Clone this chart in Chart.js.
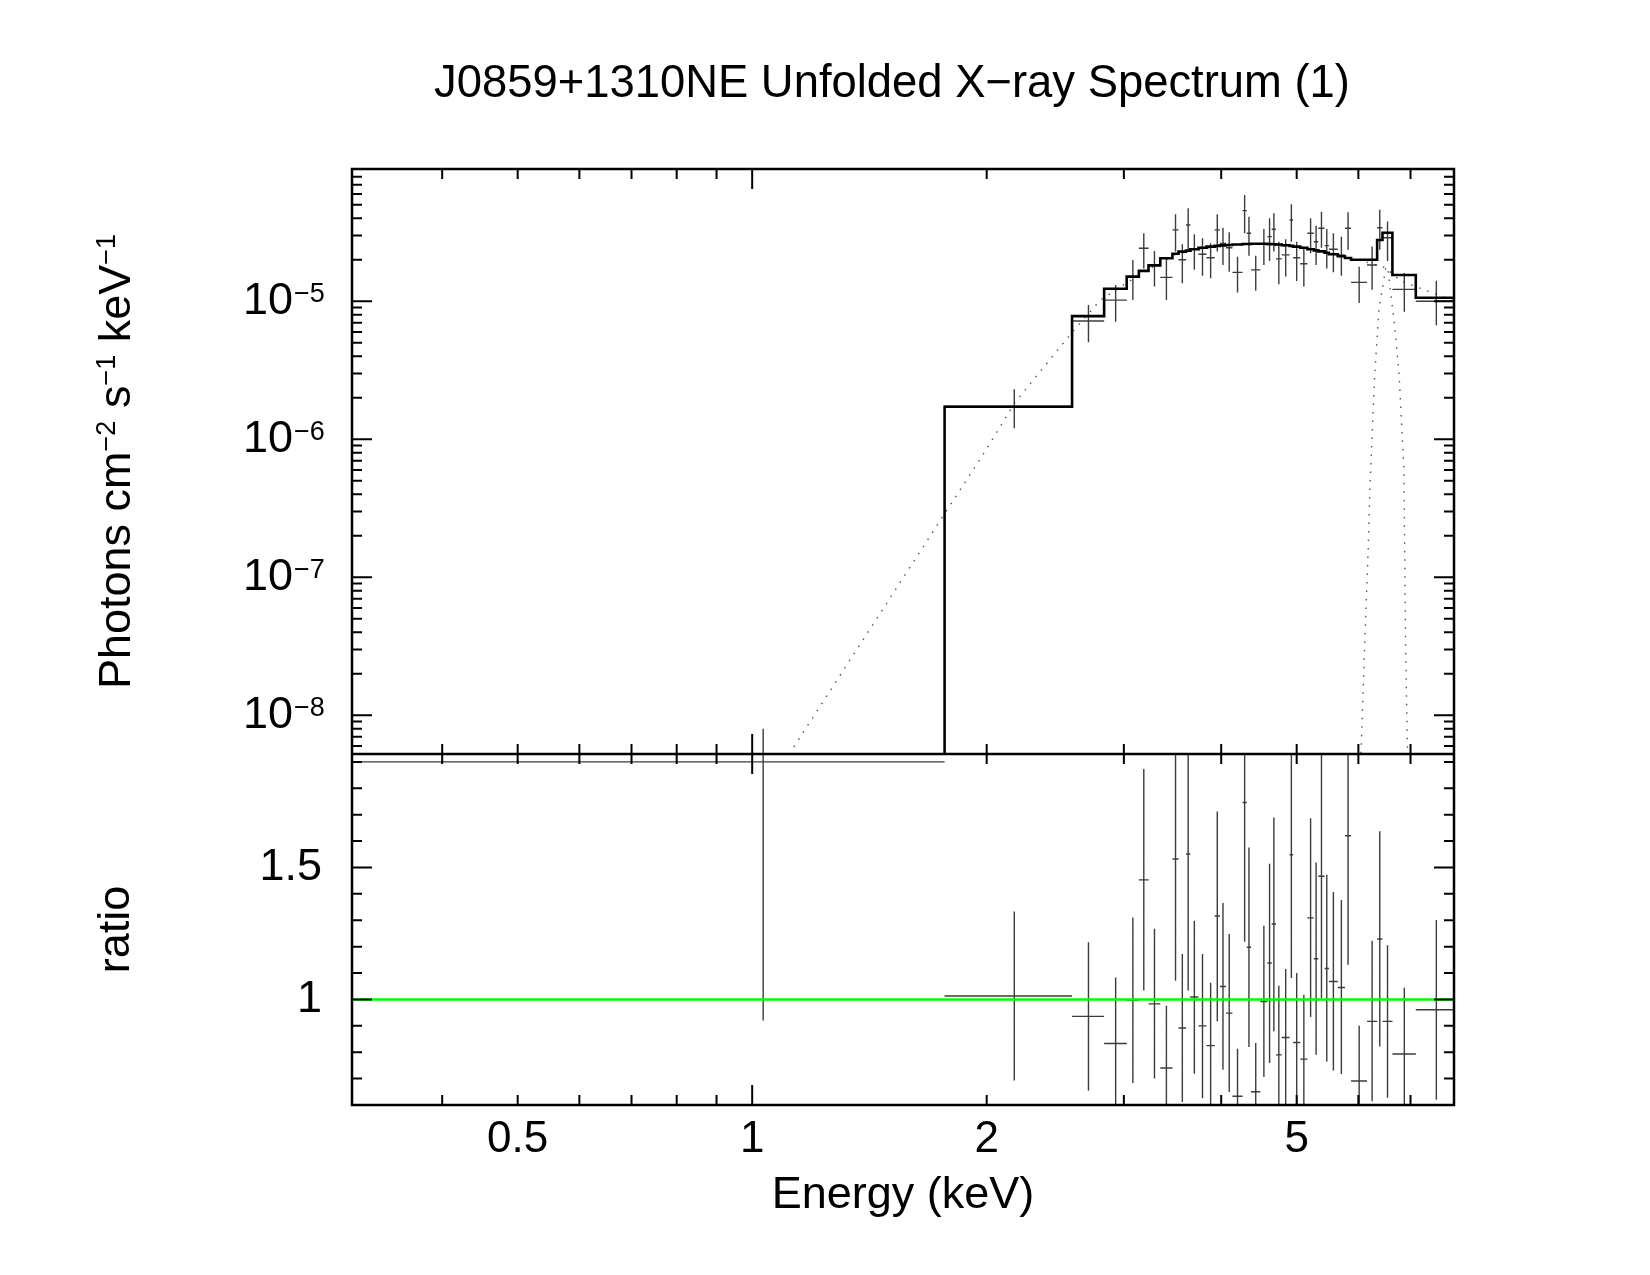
<!DOCTYPE html>
<html>
<head>
<meta charset="utf-8">
<title>J0859+1310NE Unfolded X-ray Spectrum</title>
<script src="https://cdn.jsdelivr.net/npm/chart.js@4.4.1/dist/chart.umd.min.js"></script>
<style>
  html, body { margin: 0; padding: 0; background: #fff; }
  #spec { display: block; }
</style>
</head>
<body>
<canvas id="spec" width="1650" height="1275"></canvas>
<script>
// bin centres and half widths (keV)
const energy = [1.033, 2.17, 2.702, 2.928, 3.081, 3.182, 3.284, 3.402, 3.495, 3.566, 3.628, 3.695, 3.785, 3.877,
  3.954, 4.021, 4.096, 4.198, 4.287, 4.342, 4.43, 4.538, 4.615, 4.674, 4.743, 4.84, 4.922, 5.0, 5.107, 5.21,
  5.295, 5.38, 5.465, 5.573, 5.706, 5.82, 6.014, 6.249, 6.392, 6.54, 6.873, 7.555];
const energyHalfWidth = [0.733, 0.404, 0.128, 0.098, 0.056, 0.046, 0.057, 0.061, 0.032, 0.04, 0.023, 0.045, 0.045, 0.047,
  0.031, 0.036, 0.039, 0.063, 0.027, 0.028, 0.061, 0.048, 0.03, 0.03, 0.04, 0.057, 0.026, 0.053, 0.054, 0.05,
  0.035, 0.05, 0.035, 0.073, 0.061, 0.053, 0.142, 0.093, 0.05, 0.097, 0.238, 0.445];

// unfolded data (photons cm^-2 s^-1 keV^-1) and error bar ends
const flux = [2.6e-9, 1.74e-6, 7.2e-6, 1.02e-5, 1.51e-5, 2.42e-5, 1.83e-5, 1.49e-5, 3.29e-5, 2.0e-5, 3.57e-5, 2.4e-5, 2.19e-5, 2.07e-5,
  3.29e-5, 2.63e-5, 2.44e-5, 1.62e-5, 4.54e-5, 3.11e-5, 1.69e-5, 2.59e-5, 2.94e-5, 3.33e-5, 2.03e-5, 2.17e-5, 3.88e-5, 2.07e-5, 1.87e-5, 3.11e-5,
  2.7e-5, 3.38e-5, 2.53e-5, 2.38e-5, 2.17e-5, 3.38e-5, 1.37e-5, 1.83e-5, 3.41e-5, 2.89e-5, 1.22e-5, 1.0e-5];
const fluxLow = [1e-10, 1.2e-6, 5.05e-6, 7.1e-6, 1.02e-5, 1.73e-5, 1.28e-5, 1.02e-5, 2.29e-5, 1.35e-5, 2.36e-5, 1.69e-5, 1.53e-5, 1.47e-5,
  2.29e-5, 1.83e-5, 1.64e-5, 1.16e-5, 3.11e-5, 2.14e-5, 1.19e-5, 1.83e-5, 1.96e-5, 2.29e-5, 1.33e-5, 1.51e-5, 2.7e-5, 1.4e-5, 1.28e-5, 2.23e-5,
  1.83e-5, 2.44e-5, 1.73e-5, 1.62e-5, 1.53e-5, 2.36e-5, 9.7e-6, 1.21e-5, 2.36e-5, 1.96e-5, 8.4e-6, 6.7e-6];
const fluxHigh = [8e-9, 2.3e-6, 9.4e-6, 1.31e-5, 1.99e-5, 3.11e-5, 2.31e-5, 2.03e-5, 4.27e-5, 2.59e-5, 4.72e-5, 3.06e-5, 2.86e-5, 2.63e-5,
  4.27e-5, 3.41e-5, 3.16e-5, 2.1e-5, 5.89e-5, 4.1e-5, 2.14e-5, 3.34e-5, 3.99e-5, 4.35e-5, 2.7e-5, 2.82e-5, 5.05e-5, 2.7e-5, 2.44e-5, 3.99e-5,
  3.53e-5, 4.46e-5, 3.34e-5, 3.11e-5, 2.94e-5, 4.41e-5, 1.78e-5, 2.49e-5, 4.6e-5, 3.78e-5, 1.6e-5, 1.41e-5];

// folded model, one value per bin
const modelFlux = [1e-9, 1.72e-6, 7.8e-6, 1.233e-5, 1.51e-5, 1.66e-5, 1.82e-5, 2.05e-5, 2.21e-5, 2.29e-5, 2.33e-5, 2.38e-5, 2.44e-5, 2.49e-5,
  2.52e-5, 2.54e-5, 2.56e-5, 2.58e-5, 2.6e-5, 2.6e-5, 2.61e-5, 2.61e-5, 2.6e-5, 2.59e-5, 2.58e-5, 2.55e-5, 2.52e-5, 2.49e-5, 2.44e-5, 2.38e-5,
  2.34e-5, 2.3e-5, 2.25e-5, 2.19e-5, 2.12e-5, 2.06e-5, 2.0e-5, 2.0e-5, 2.78e-5, 3.14e-5, 1.55e-5, 1.06e-5];

// data / model ratio and error bar ends
const ratio = [1.9, 1.013, 0.936, 0.833, 0.998, 1.453, 0.983, 0.74, 1.532, 0.892, 1.551, 1.009, 0.90, 0.825,
  1.316, 1.049, 0.948, 0.633, 1.746, 1.198, 0.65, 0.992, 1.138, 1.286, 0.79, 0.856, 1.548, 0.837, 0.774, 1.309,
  1.154, 1.467, 1.117, 1.068, 1.045, 1.62, 0.691, 0.917, 1.229, 0.917, 0.793, 0.961];
const ratioLow = [0.92, 0.693, 0.654, 0.55, 0.683, 1.034, 0.70, 0.5, 1.071, 0.611, 1.034, 0.718, 0.626, 0.58,
  0.917, 0.734, 0.649, 0.45, 1.219, 0.82, 0.46, 0.706, 0.759, 0.879, 0.53, 0.595, 1.081, 0.57, 0.53, 0.933,
  0.79, 1.005, 0.765, 0.731, 0.717, 1.131, 0.48, 0.614, 0.822, 0.627, 0.54, 0.62];
const ratioHigh = [2.5, 1.333, 1.217, 1.083, 1.31, 1.873, 1.268, 0.976, 2.0, 1.172, 2.07, 1.298, 1.172, 1.063,
  1.712, 1.365, 1.248, 0.813, 2.27, 1.576, 0.835, 1.279, 1.514, 1.689, 1.052, 1.115, 2.02, 1.1, 1.018, 1.687,
  1.519, 1.95, 1.472, 1.407, 1.377, 2.1, 0.9, 1.222, 1.637, 1.205, 1.044, 1.301];

// model components (dotted)
const continuumEnergy = [1.131, 1.536, 1.995, 2.17, 2.568, 2.798, 2.95, 3.2, 3.5, 4.0, 4.4, 5.0, 5.5, 6.0, 6.5, 6.8, 7.38, 7.96];
const continuumFlux = [5.9e-9, 8.55e-8, 8.35e-7, 1.82e-6, 5.86e-6, 1.02e-5, 1.24e-5, 1.66e-5, 2.2e-5, 2.52e-5, 2.6e-5, 2.48e-5,
  2.25e-5, 2.0e-5, 1.75e-5, 1.4e-5, 1.18e-5, 1.0e-5];
const lineEnergy = [6.047, 6.11, 6.177, 6.209, 6.295, 6.375, 6.51, 6.545, 6.68, 6.77, 6.865, 6.88, 6.90, 6.937];
const lineFlux = [5.3e-9, 3e-8, 1.6e-7, 4.54e-7, 2.85e-6, 8.65e-6, 1.78e-5, 1.75e-5, 6.55e-6, 2.85e-6, 6e-7, 1.6e-7, 3e-8, 5.8e-9];

// axes
const energyRange = [0.3064, 7.96];
const fluxRange = [5.24e-9, 9.09e-5];
const ratioRange = [0.6, 1.93];
const energyLabels = [0.5, 1, 2, 5];
const fluxLabels = [1e-8, 1e-7, 1e-6, 1e-5];
const ratioLabels = [1, 1.5];

const FONT = '"Liberation Sans", Arial, Helvetica, sans-serif';

const xy = (xs, ys) => xs.map((x, i) => ({x: x, y: ys[i]}));

// horizontal + vertical bar for every bin, separated by gaps
function crosses(yc, ylo, yhi) {
  const pts = [];
  energy.forEach((e, i) => {
    const h = energyHalfWidth[i];
    pts.push({x: e - h, y: yc[i]}, {x: e + h, y: yc[i]}, {x: e, y: null});
    pts.push({x: e, y: ylo[i]}, {x: e, y: yhi[i]}, {x: e, y: null});
  });
  return pts;
}

const modelSteps = energy.map((e, i) => ({x: e - energyHalfWidth[i], y: modelFlux[i]}));
const last = energy.length - 1;
modelSteps.push({x: energy[last] + energyHalfWidth[last], y: modelFlux[last]});

const unity = [
  {x: energy[0] - energyHalfWidth[0], y: 1},
  {x: energy[last] + energyHalfWidth[last], y: 1}
];

const near = (a, b) => Math.abs(a - b) < 1e-9 * Math.max(1, Math.abs(b));
const isDecade = v => Math.abs(Math.log10(v) - Math.round(Math.log10(v))) < 1e-9;

function logTicks(scale, e0, e1) {
  const t = [];
  for (let e = e0; e <= e1; e++) {
    for (let m = 1; m <= 9; m++) {
      const v = m * Math.pow(10, e);
      if (v >= scale.min && v <= scale.max) t.push({value: v});
    }
  }
  scale.ticks = t;
}

// frame, inward ticks, superscripted labels and title
const xspecFrame = {
  id: 'xspecFrame',
  afterDraw(chart) {
    const ctx = chart.ctx;
    const xs = chart.scales.x, yt = chart.scales.yTop, yb = chart.scales.yBot;
    const left = xs.left, right = xs.right, top = yt.top, mid = yt.bottom, bottom = yb.bottom;

    ctx.save();
    ctx.strokeStyle = '#000';
    ctx.fillStyle = '#000';
    ctx.lineWidth = 2;
    ctx.beginPath();
    xs.ticks.forEach(t => {
      const px = xs.getPixelForValue(t.value);
      if (px < left + 1 || px > right - 1) return;
      const len = isDecade(t.value) ? 20 : 10;
      ctx.moveTo(px, top); ctx.lineTo(px, top + len);
      ctx.moveTo(px, mid - len); ctx.lineTo(px, mid + len);
      ctx.moveTo(px, bottom); ctx.lineTo(px, bottom - len);
    });
    yt.ticks.forEach(t => {
      const py = yt.getPixelForValue(t.value);
      if (py < top + 1 || py > mid - 1) return;
      const len = isDecade(t.value) ? 20 : 10;
      ctx.moveTo(left, py); ctx.lineTo(left + len, py);
      ctx.moveTo(right, py); ctx.lineTo(right - len, py);
    });
    yb.ticks.forEach(t => {
      const py = yb.getPixelForValue(t.value);
      if (py < mid + 1 || py > bottom - 1) return;
      const len = near(t.value * 2, Math.round(t.value * 2)) ? 20 : 10;
      ctx.moveTo(left, py); ctx.lineTo(left + len, py);
      ctx.moveTo(right, py); ctx.lineTo(right - len, py);
    });
    ctx.stroke();

    ctx.lineWidth = 2.5;
    ctx.strokeRect(left, top, right - left, bottom - top);
    ctx.beginPath();
    ctx.moveTo(left, mid); ctx.lineTo(right, mid);
    ctx.stroke();

    // 10^n labels
    fluxLabels.forEach(v => {
      const py = yt.getPixelForValue(v);
      const ex = '\u2212' + Math.abs(Math.round(Math.log10(v)));
      ctx.font = '45px ' + FONT;
      ctx.textAlign = 'right';
      ctx.textBaseline = 'alphabetic';
      ctx.fillText('10', left - 59, py + 12.5);
      ctx.font = '27px ' + FONT;
      ctx.textAlign = 'left';
      ctx.fillText(ex, left - 58, py + 0.5);
    });

    // y title with superscripts
    const parts = [['Photons cm', 45, 0], ['\u22122', 27, 15], [' s', 45, 0], ['\u22121', 27, 15], [' keV', 45, 0], ['\u22121', 27, 15]];
    let total = 0;
    parts.forEach(p => { ctx.font = p[1] + 'px ' + FONT; total += ctx.measureText(p[0]).width; });
    ctx.translate(130, (top + mid) / 2);
    ctx.rotate(-Math.PI / 2);
    ctx.textAlign = 'left';
    let u = -total / 2;
    parts.forEach(p => {
      ctx.font = p[1] + 'px ' + FONT;
      ctx.fillText(p[0], u, -p[2]);
      u += ctx.measureText(p[0]).width;
    });
    ctx.setTransform(1, 0, 0, 1, 0, 0);

    ctx.font = '45.4px ' + FONT;
    ctx.textAlign = 'center';
    ctx.fillText('J0859+1310NE Unfolded X\u2212ray Spectrum (1)', 892, 97);
    ctx.restore();
  }
};

new Chart(document.getElementById('spec'), {
  type: 'line',
  data: {
    datasets: [
      {label: 'ratio model', data: unity, yAxisID: 'yBot', borderColor: '#00ff00', borderWidth: 2.5, pointRadius: 0},
      {label: 'model', data: modelSteps, yAxisID: 'yTop', stepped: 'before', borderColor: '#000', borderWidth: 2.6, pointRadius: 0},
      {label: 'data', data: crosses(flux, fluxLow, fluxHigh), yAxisID: 'yTop', borderColor: '#3c3c3c', borderWidth: 1.4, pointRadius: 0, spanGaps: false},
      {label: 'ratio', data: crosses(ratio, ratioLow, ratioHigh), yAxisID: 'yBot', borderColor: '#3c3c3c', borderWidth: 1.4, pointRadius: 0, spanGaps: false},
      {label: 'continuum', data: xy(continuumEnergy, continuumFlux), yAxisID: 'yTop', borderColor: '#555', borderWidth: 1.4, borderDash: [1.5, 7], pointRadius: 0},
      {label: 'Fe line', data: xy(lineEnergy, lineFlux), yAxisID: 'yTop', borderColor: '#555', borderWidth: 1.4, borderDash: [1.5, 7], pointRadius: 0}
    ]
  },
  options: {
    responsive: false,
    animation: false,
    events: [],
    layout: {padding: {left: 0, top: 169, right: 196, bottom: 0}},
    plugins: {legend: {display: false}, tooltip: {enabled: false}, title: {display: false}},
    scales: {
      x: {
        type: 'logarithmic',
        position: 'bottom',
        bounds: 'data',
        min: energyRange[0],
        max: energyRange[1],
        grid: {display: false, drawTicks: false, tickLength: 0},
        border: {display: false},
        afterBuildTicks: s => logTicks(s, -1, 0),
        afterFit: s => { s.height = 170; },
        ticks: {
          autoSkip: false, maxRotation: 0, minRotation: 0, padding: 8, color: '#000',
          font: {family: FONT, size: 44},
          callback: v => energyLabels.some(l => near(v, l)) ? String(energyLabels.find(l => near(v, l))) : ''
        },
        title: {display: true, text: 'Energy (keV)', color: '#000', font: {family: FONT, size: 45}, padding: {top: 0, bottom: 52}}
      },
      yBot: {
        type: 'linear',
        position: 'left',
        stack: 'panels',
        stackWeight: 351,
        bounds: 'data',
        min: ratioRange[0],
        max: ratioRange[1],
        grid: {display: false, drawTicks: false, tickLength: 0},
        border: {display: false},
        afterBuildTicks: s => {
          const t = [];
          for (let k = 6; k <= 19; k++) t.push({value: k / 10});
          s.ticks = t;
        },
        afterFit: s => { s.width = 352; },
        ticks: {
          autoSkip: false, padding: 30, color: '#000',
          font: {family: FONT, size: 45},
          callback: v => ratioLabels.some(l => near(v, l)) ? String(v) : ''
        },
        title: {display: true, text: 'ratio', color: '#000', font: {family: FONT, size: 45}, padding: {top: 90, bottom: 0}}
      },
      yTop: {
        type: 'logarithmic',
        position: 'left',
        stack: 'panels',
        stackWeight: 585,
        bounds: 'data',
        min: fluxRange[0],
        max: fluxRange[1],
        grid: {display: false, drawTicks: false, tickLength: 0},
        border: {display: false},
        afterBuildTicks: s => logTicks(s, -9, -5),
        afterFit: s => { s.width = 352; },
        ticks: {display: false, autoSkip: false}
      }
    }
  },
  plugins: [xspecFrame]
});
</script>
</body>
</html>
